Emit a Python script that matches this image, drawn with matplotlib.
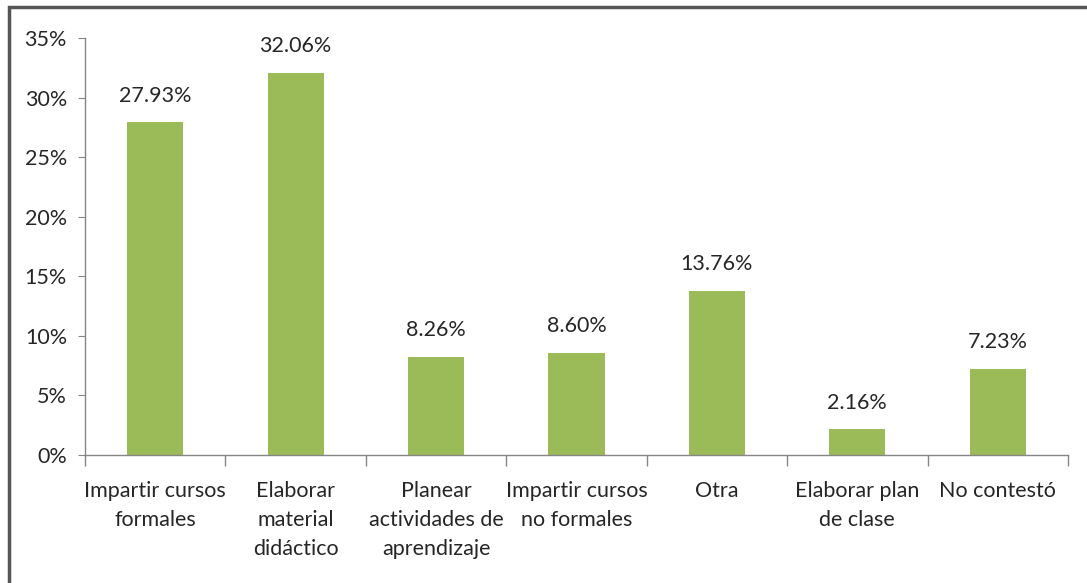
import matplotlib.pyplot as plt
import numpy as np
from matplotlib.patches import Rectangle
from matplotlib.ticker import FixedLocator, PercentFormatter

plt.rcParams["font.family"] = ["Lato", "DejaVu Sans"]

categories = [
    "Impartir cursos\nformales",
    "Elaborar\nmaterial\ndidáctico",
    "Planear\nactividades de\naprendizaje",
    "Impartir cursos\nno formales",
    "Otra",
    "Elaborar plan\nde clase",
    "No contestó",
]
values = [27.93, 32.06, 8.26, 8.60, 13.76, 2.16, 7.23]
yticks = [0, 5, 10, 15, 20, 25, 30, 35]

bar_color = "#9BBB59"
text_color = "#262626"
axis_color = "#868686"

fig = plt.figure(figsize=(10.87, 5.83), dpi=100)
ax = fig.add_axes([0.0782, 0.2196, 0.9043, 0.7152])

x = np.arange(len(categories))
bars = ax.bar(x, values, width=0.40, color=bar_color, zorder=2)

for rect, v in zip(bars, values):
    ax.annotate(f"{v:.2f}%", (rect.get_x() + rect.get_width() / 2, v),
                xytext=(0, 12), textcoords="offset points",
                ha="center", va="bottom", fontsize=15.5, color=text_color)

ax.set_xlim(-0.5, len(categories) - 0.5)
ax.set_ylim(0, 35)
ax.set_yticks(yticks)
ax.yaxis.set_major_formatter(PercentFormatter(decimals=0))

ax.set_xticks(x)
ax.set_xticklabels(categories, fontsize=15.5, color=text_color, linespacing=1.55)
ax.xaxis.set_minor_locator(FixedLocator(np.arange(len(categories) + 1) - 0.5))
ax.tick_params(axis="x", which="major", length=0, pad=19)
ax.tick_params(axis="x", which="minor", length=8, color=axis_color, width=1)
ax.tick_params(axis="y", length=5, color=axis_color, labelsize=15.5,
               labelcolor=text_color, pad=8)

for side in ("top", "right"):
    ax.spines[side].set_visible(False)
for side in ("left", "bottom"):
    ax.spines[side].set_color(axis_color)
    ax.spines[side].set_linewidth(1)

# outer frame of the chart area (right and bottom edges fall outside the image)
fig.patches.append(Rectangle((0.008, -0.05), 1.1, 1.038, transform=fig.transFigure,
                             fill=False, edgecolor="#555555", linewidth=2.5))

fig.savefig("out.png", dpi=100)
